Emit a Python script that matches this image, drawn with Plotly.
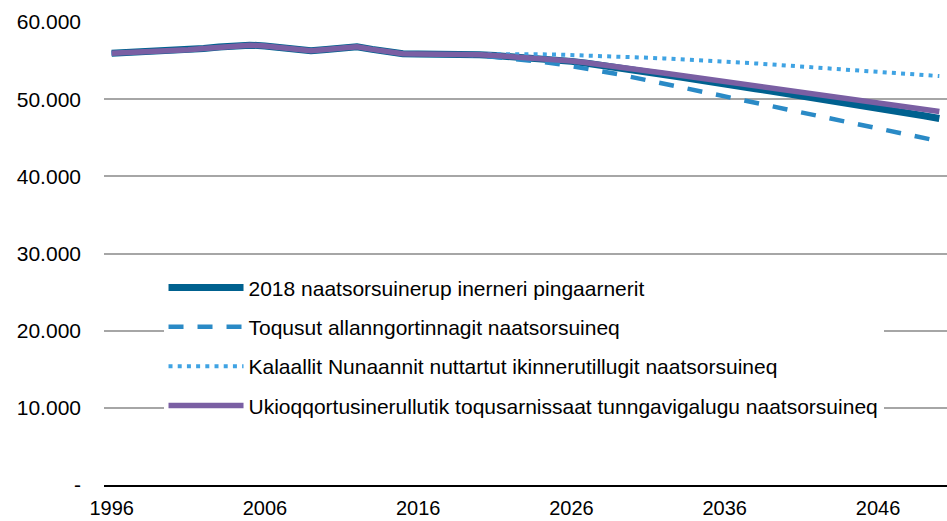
import plotly.graph_objects as go

years = list(range(1996, 2051))

history = [55950, 56020, 56090, 56150, 56230, 56400, 56580, 56760, 56900, 57000,
           56900, 56700, 56500, 56270, 56450, 56620, 56800, 56450, 56150, 55880,
           55850, 55860, 55850]

main_proj = [55820, 55760, 55660, 55550, 55440, 55300, 55100, 54900, 54650, 54400,
             54100, 53800, 53500, 53200, 52900, 52550, 52250, 51950, 51650, 51350,
             51050, 50750, 50450, 50150, 49850, 49550, 49200, 48850, 48500, 48150,
             47850, 47500]

low_proj = [55780, 55650, 55480, 55300, 55100, 54850, 54600, 54300, 53950, 53600,
            53250, 52850, 52450, 52050, 51650, 51200, 50800, 50380, 49960, 49540,
            49120, 48700, 48280, 47860, 47440, 47020, 46600, 46180, 45760, 45340,
            44950, 44550]

high_proj = [55860, 55870, 55870, 55860, 55840, 55810, 55780, 55730, 55670, 55600,
             55530, 55450, 55370, 55280, 55190, 55100, 55000, 54880, 54760, 54630,
             54500, 54370, 54230, 54100, 53960, 53830, 53690, 53550, 53410, 53270,
             53130, 52990]

life_proj = [55820, 55760, 55660, 55550, 55440, 55300, 55120, 54940, 54720, 54490,
             54210, 53940, 53660, 53380, 53110, 52790, 52510, 52230, 51960, 51690,
             51420, 51150, 50880, 50620, 50360, 50100, 49800, 49500, 49200, 48900,
             48650, 48400]

names = [
    "2018 naatsorsuinerup inerneri pingaarnerit",
    "Toqusut allanngortinnagit naatsorsuineq",
    "Kalaallit Nunaannit nuttartut ikinnerutillugit naatsorsuineq",
    "Ukioqqortusinerullutik toqusarnissaat tunngavigalugu naatsorsuineq",
]

y_ticks = [0, 10000, 20000, 30000, 40000, 50000, 60000]
y_labels = ["-", "10.000", "20.000", "30.000", "40.000", "50.000", "60.000"]
x_ticks = [1996, 2006, 2016, 2026, 2036, 2046]

series = [history + main_proj, history + low_proj, history + high_proj, history + life_proj]
styles = [
    dict(color="#00618F", width=7, dash="solid"),
    dict(color="#2A8AC6", width=4.5, dash="15px,14px"),
    dict(color="#3FA3E3", width=4, dash="4px,5.2px"),
    dict(color="#7A5FA3", width=5.5, dash="solid"),
]

fig = go.Figure()
for i, (nm, ys, st) in enumerate(zip(names, series, styles)):
    fig.add_trace(go.Scatter(x=years, y=ys, mode="lines", name=nm, line=st,
                             legendgroup=str(i), hoverinfo="skip"))

font_family = "Liberation Sans, Arial, sans-serif"
fig.update_layout(
    width=947, height=521,
    margin=dict(l=104, r=0, t=22, b=36),
    paper_bgcolor="white", plot_bgcolor="white",
    font=dict(family=font_family, size=21, color="black"),
    showlegend=True,
    legend=dict(x=0.0706, y=0.47, xanchor="left", yanchor="top",
                bgcolor="white", borderwidth=0, itemwidth=75,
                tracegroupgap=9, font=dict(size=21, family=font_family)),
    xaxis=dict(range=[1995.5, 2050.5], tickvals=x_ticks, showgrid=False,
               showline=True, linecolor="black", linewidth=2, ticks="",
               zeroline=False, tickfont=dict(size=20), ticklabelstandoff=4,
               fixedrange=True),
    yaxis=dict(range=[0, 60000], tickvals=y_ticks, ticktext=y_labels,
               showgrid=True, gridcolor="#A6A6A6", gridwidth=1.5,
               zeroline=False, showline=False, ticks="",
               ticklabelstandoff=22, tickfont=dict(size=21), fixedrange=True),
)

fig.write_html("out.html", config={"displayModeBar": False},
               post_script="document.body.style.margin='0';document.body.style.overflow='hidden';")
